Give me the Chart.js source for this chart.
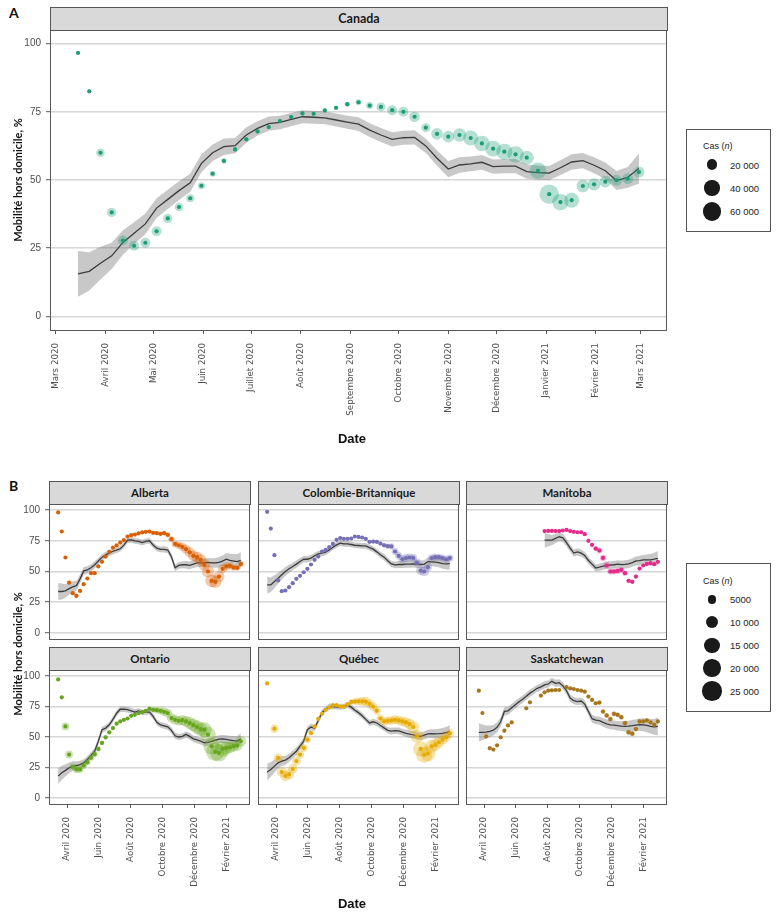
<!DOCTYPE html>
<html lang="fr">
<head>
<meta charset="utf-8">
<title>Mobilité hors domicile</title>
<script src="https://cdn.jsdelivr.net/npm/chart.js@4.4.1/dist/chart.umd.min.js"></script>
<style>
  html, body { margin: 0; padding: 0; background: #fff; }
  body { position: relative; width: 778px; height: 915px; overflow: hidden; font-family: Lato, 'Noto Sans', sans-serif; }
  canvas { position: absolute; }
  .strip { position: absolute; box-sizing: border-box; background: #d9d9d9; border: 1px solid #555; font-weight: bold; color: #1a1a1a; text-align: center; }
  .lettre { position: absolute; font-weight: bold; font-size: 14px; color: #111; }
  .ytitre { position: absolute; font-weight: bold; font-size: 11px; color: #111; white-space: nowrap; transform: translate(-50%, -50%) rotate(-90deg); }
  .xtitre { position: absolute; font-family: 'Liberation Sans Narrow', 'Liberation Sans', sans-serif; font-weight: bold; font-size: 13px; color: #111; transform: translate(-50%, -50%); }
  .legende { position: absolute; box-sizing: border-box; border: 1px solid #555; background: #fff; font-family: 'Liberation Sans', sans-serif; color: #222; }
  .legende .t { position: absolute; font-size: 9px; white-space: nowrap; transform: translateY(-50%); }
  .legende .v { position: absolute; font-size: 9.5px; white-space: nowrap; transform: translateY(-50%); }
  .rond { position: absolute; background: #1a1a1a; border-radius: 50%; }
</style>
</head>
<body>
<script>
// semaines d'observation (dimanche)
const semaines = [
  '2020-03-15', '2020-03-22', '2020-03-29', '2020-04-05', '2020-04-12', '2020-04-19', '2020-04-26',
  '2020-05-03', '2020-05-10', '2020-05-17', '2020-05-24', '2020-05-31', '2020-06-07', '2020-06-14',
  '2020-06-21', '2020-06-28', '2020-07-05', '2020-07-12', '2020-07-19', '2020-07-26', '2020-08-02',
  '2020-08-09', '2020-08-16', '2020-08-23', '2020-08-30', '2020-09-06', '2020-09-13', '2020-09-20',
  '2020-09-27', '2020-10-04', '2020-10-11', '2020-10-18', '2020-10-25', '2020-11-01', '2020-11-08',
  '2020-11-15', '2020-11-22', '2020-11-29', '2020-12-06', '2020-12-13', '2020-12-20', '2020-12-27',
  '2021-01-03', '2021-01-10', '2021-01-17', '2021-01-24', '2021-01-31', '2021-02-07', '2021-02-14',
  '2021-02-21', '2021-02-28'
];

const moisCanada = ['2020-03-01', '2020-04-01', '2020-05-01', '2020-06-01', '2020-07-01', '2020-08-01', '2020-09-01',
  '2020-10-01', '2020-11-01', '2020-12-01', '2021-01-01', '2021-02-01', '2021-03-01'];
const etiquettesCanada = ['Mars 2020', 'Avril 2020', 'Mai 2020', 'Juin 2020', 'Juillet 2020', 'Août 2020',
  'Septembre 2020', 'Octobre 2020', 'Novembre 2020', 'Décembre 2020', 'Janvier 2021', 'Février 2021', 'Mars 2021'];
const moisProvinces = ['2020-04-01', '2020-06-01', '2020-08-01', '2020-10-01', '2020-12-01', '2021-02-01'];
const etiquettesProvinces = ['Avril 2020', 'Juin 2020', 'Août 2020', 'Octobre 2020', 'Décembre 2020', 'Février 2021'];
const graduationsY = [0, 25, 50, 75, 100];

const legendeCanada = [20000, 40000, 60000];
const legendeProvinces = [5000, 10000, 15000, 20000, 25000];

// Canada
const canadaMobilite = [96.6, 82.5, 60.0, 38.1, 27.8, 25.9, 27.0, 31.2, 35.9, 40.1, 43.3, 47.9, 52.3, 57.0, 61.2, 64.9, 67.8,
  69.4, 71.6, 73.1, 74.4, 74.3, 75.5, 76.5, 77.8, 78.5, 77.3, 76.8, 75.6, 75.0, 73.2, 69.2, 66.9, 65.9, 66.5, 65.4, 63.4,
  61.5, 60.4, 59.4, 58.2, 53.4, 44.8, 41.9, 42.6, 47.8, 48.4, 49.4, 49.9, 50.5, 52.9];
const canadaTendance = [15.6, 16.5, 19.5, 22.2, 27.1, 30.5, 33.9, 39.7, 42.9, 46.1, 49.0, 56.1, 60.0, 62.2, 62.6, 66.5, 68.9,
  70.7, 71.1, 72.2, 73.2, 73.0, 72.8, 72.0, 71.2, 70.5, 68.3, 66.5, 64.9, 65.5, 65.6, 62.5, 58.0, 54.0, 55.5, 55.9, 56.5,
  54.9, 55.1, 55.1, 53.1, 52.7, 52.5, 54.5, 56.6, 57.1, 55.4, 53.4, 49.8, 51.0, 54.2];
const canadaDemiIC = [8.4, 7.0, 6.0, 4.8, 4.5, 4.0, 3.8, 3.6, 3.5, 3.4, 3.3, 3.3, 3.0, 3.0, 2.8, 2.8, 2.6, 2.6, 2.5, 2.5,
  2.4, 2.4, 2.4, 2.4, 2.4, 2.5, 2.5, 2.6, 2.6, 2.6, 2.6, 2.6, 2.8, 3.0, 2.8, 2.7, 2.7, 2.6, 2.6, 2.6, 2.6, 2.6, 2.6, 2.7,
  2.8, 2.8, 2.9, 3.0, 3.5, 3.8, 5.5];
const canadaCas = [1000, 3000, 12800, 15300, 17300, 17300, 17300, 17300, 15300, 12500, 11000, 8500, 6000, 4500, 3500, 3000,
  3000, 3000, 3500, 3500, 3000, 3000, 3000, 3500, 4500, 6000, 8500, 14000, 17300, 17300, 19500, 14000, 23300, 23300, 31100,
  39000, 42100, 42100, 44300, 46600, 33900, 47700, 65200, 46600, 39000, 27500, 26600, 23300, 21000, 21000, 21000];

// Alberta
const albertaMobilite = [98.1, 82.6, 61.4, 41.0, 32.3, 30.2, 34.2, 39.7, 44.3, 48.6, 48.6, 54.1, 57.9, 62.2, 66.0, 69.5, 71.4,
  73.6, 75.5, 78.5, 79.6, 80.1, 81.0, 81.8, 82.3, 82.6, 81.5, 81.2, 80.7, 81.2, 79.9, 76.3, 72.5, 71.4, 70.1, 68.2, 65.7,
  62.8, 61.7, 59.5, 55.4, 50.0, 42.4, 41.6, 45.9, 52.2, 54.1, 54.6, 53.2, 53.0, 56.2];
const albertaTendance = [33.7, 33.7, 34.2, 36.0, 37.5, 38.5, 44.0, 50.5, 51.3, 53.0, 55.5, 58.5, 61.5, 63.5, 65.0, 66.5, 67.5,
  68.5, 71.5, 75.5, 75.8, 75.0, 74.5, 73.5, 74.5, 75.0, 71.5, 69.0, 68.0, 68.0, 67.5, 62.0, 53.0, 55.0, 55.5, 55.5, 55.0,
  56.0, 57.0, 57.0, 57.0, 57.5, 57.0, 57.0, 57.5, 58.5, 60.0, 59.0, 58.5, 58.0, 59.0];
const albertaDemiIC = [7.0, 6.5, 5.5, 5.0, 4.5, 4.0, 3.5, 3.2, 3.0, 3.0, 2.8, 2.8, 2.6, 2.5, 2.5, 2.4, 2.4, 2.3, 2.3, 2.3,
  2.3, 2.3, 2.3, 2.3, 2.3, 2.3, 2.3, 2.4, 2.4, 2.5, 2.5, 2.6, 2.7, 2.8, 2.9, 3.0, 3.1, 3.2, 3.3, 3.4, 3.5, 3.6, 3.8, 4.0,
  4.3, 4.6, 5.0, 5.4, 5.8, 6.2, 6.8];
const albertaCas = [100, 400, 700, 900, 1400, 1500, 1000, 600, 400, 250, 200, 150, 200, 250, 300, 350, 500, 700, 800, 700,
  600, 650, 700, 800, 900, 1000, 1100, 1200, 1300, 1500, 1800, 2500, 3200, 3800, 4500, 5500, 6500, 7500, 8000, 8500, 9000,
  9500, 10500, 10000, 8000, 5500, 4000, 3000, 2600, 2400, 2500];

// Colombie-Britannique
const cbMobilite = [98.6, 85.0, 63.3, 42.7, 34.0, 34.5, 37.2, 40.5, 44.0, 46.5, 49.4, 52.2, 55.7, 59.5, 62.2, 66.3, 67.6,
  69.8, 72.5, 75.8, 77.2, 76.6, 76.6, 76.9, 78.5, 78.2, 77.7, 76.6, 74.2, 74.4, 74.2, 72.8, 71.4, 70.6, 70.4, 66.3, 62.8,
  60.0, 60.9, 61.4, 61.1, 57.3, 50.8, 50.0, 53.5, 60.9, 61.7, 61.7, 60.9, 60.0, 60.9];
const cbTendance = [39.1, 39.1, 41.8, 44.5, 47.3, 50.0, 52.2, 54.1, 56.0, 58.1, 60.0, 60.0, 60.9, 62.8, 64.4, 64.9, 65.7,
  67.6, 69.8, 71.7, 73.1, 72.5, 72.5, 72.0, 71.4, 71.2, 70.9, 70.9, 69.5, 68.2, 66.0, 63.6, 61.7, 58.7, 56.2, 55.4, 55.7,
  55.7, 56.0, 56.0, 56.2, 56.0, 55.7, 56.0, 58.1, 57.9, 57.6, 57.3, 56.5, 56.2, 56.5];
const cbDemiIC = [6.8, 6.0, 5.2, 4.5, 4.0, 3.6, 3.3, 3.0, 2.9, 2.8, 2.7, 2.6, 2.5, 2.5, 2.4, 2.4, 2.4, 2.3, 2.3, 2.3, 2.3,
  2.3, 2.3, 2.3, 2.3, 2.3, 2.3, 2.3, 2.4, 2.4, 2.4, 2.5, 2.5, 2.6, 2.6, 2.7, 2.8, 2.8, 2.9, 3.0, 3.0, 3.1, 3.2, 3.3, 3.4,
  3.5, 3.7, 3.9, 4.2, 4.5, 5.0];
const cbCas = [50, 300, 400, 350, 250, 200, 200, 150, 100, 100, 80, 60, 50, 60, 80, 100, 150, 200, 250, 300, 400, 500, 550,
  600, 700, 800, 900, 1000, 900, 1000, 1100, 1200, 1500, 1800, 2500, 3000, 3500, 4000, 4200, 4000, 3800, 4000, 5500, 6000,
  4500, 3800, 3500, 3200, 3200, 3300, 3500];

// Manitoba (pas de données avant fin juillet)
const manitobaMobilite = [null, null, null, null, null, null, null, null, null, null, null, null, null, null, null, null,
  null, null, null, 82.9, 83.1, 83.1, 82.9, 82.9, 83.4, 83.9, 82.9, 82.3, 82.0, 82.0, 80.4, 75.0, 71.7, 68.7, 67.1, 61.1,
  54.9, 50.0, 50.0, 50.5, 51.3, 48.6, 42.4, 41.6, 45.9, 52.4, 54.9, 56.2, 56.8, 56.0, 57.9];
const manitobaTendance = [null, null, null, null, null, null, null, null, null, null, null, null, null, null, null, null,
  null, null, null, 75.5, 75.5, 75.6, 77.0, 78.3, 77.5, 73.5, 69.0, 65.0, 66.0, 65.0, 63.0, 59.0, 56.0, 52.8, 53.5, 54.3,
  55.2, 55.3, 55.5, 56.0, 55.6, 55.8, 56.2, 57.3, 58.6, 58.8, 59.5, 59.4, 59.5, 60.0, 60.7];
const manitobaDemiIC = [null, null, null, null, null, null, null, null, null, null, null, null, null, null, null, null,
  null, null, null, 6.0, 5.0, 4.2, 3.8, 3.5, 3.3, 3.1, 3.0, 3.0, 2.9, 2.9, 2.9, 2.9, 2.9, 2.9, 2.9, 3.0, 3.0, 3.0, 3.1,
  3.1, 3.2, 3.3, 3.4, 3.5, 3.7, 3.9, 4.1, 4.4, 4.8, 5.3, 6.0];
const manitobaCas = [null, null, null, null, null, null, null, null, null, null, null, null, null, null, null, null,
  null, null, null, 100, 100, 100, 150, 200, 250, 300, 400, 500, 600, 700, 800, 900, 1200, 1800, 2200, 2500, 2600, 2500,
  2400, 2300, 2200, 1800, 1500, 1200, 1000, 800, 700, 600, 600, 500, 500];

// Ontario
const ontarioMobilite = [97.3, 82.6, 58.7, 35.6, 25.5, 23.4, 23.4, 26.6, 29.3, 32.9, 35.9, 40.2, 45.1, 49.7, 53.8, 57.3,
  60.9, 62.8, 64.1, 65.2, 67.4, 68.2, 69.6, 70.4, 71.5, 73.1, 72.3, 72.0, 71.5, 70.7, 69.6, 65.5, 64.1, 63.3, 63.9, 62.8,
  61.4, 59.8, 58.2, 56.5, 56.0, 51.9, 42.4, 37.8, 37.0, 40.2, 41.0, 41.6, 42.4, 42.9, 46.5];
const ontarioTendance = [17.9, 20.7, 22.6, 24.7, 26.1, 26.6, 27.4, 28.8, 31.5, 34.8, 38.3, 46.5, 56.0, 57.3, 60.0, 64.5,
  69.5, 72.8, 72.8, 72.5, 71.5, 70.5, 71.3, 70.2, 70.6, 70.5, 67.0, 62.0, 60.0, 59.2, 58.3, 55.5, 51.0, 50.0, 50.5, 52.2,
  50.5, 48.5, 47.6, 46.6, 45.3, 45.6, 46.5, 47.5, 48.2, 48.4, 48.0, 47.5, 47.0, 46.7, 48.6];
const ontarioDemiIC = [6.5, 5.8, 5.0, 4.4, 3.9, 3.5, 3.2, 3.0, 2.9, 2.8, 2.7, 2.6, 2.5, 2.5, 2.4, 2.4, 2.4, 2.3, 2.3, 2.3,
  2.3, 2.3, 2.3, 2.3, 2.3, 2.3, 2.3, 2.3, 2.4, 2.4, 2.4, 2.5, 2.5, 2.5, 2.6, 2.6, 2.7, 2.7, 2.8, 2.8, 2.9, 3.0, 3.0, 3.1,
  3.2, 3.3, 3.4, 3.6, 3.8, 4.1, 4.5];
const ontarioCas = [100, 500, 4000, 4000, 3300, 3500, 3300, 3000, 2500, 2400, 2300, 2000, 1500, 1300, 1100, 1000, 900, 800,
  800, 750, 650, 600, 700, 800, 1000, 1500, 2000, 2700, 3500, 4500, 5000, 5500, 5800, 6000, 7000, 8000, 9500, 10500, 11500,
  12500, 14000, 16000, 18000, 22000, 20000, 16000, 11000, 9000, 7500, 7000, 7500];

// Québec
const quebecMobilite = [94.0, null, 56.8, 32.9, 21.2, 17.9, 19.3, 23.9, 30.2, 35.6, 41.0, 47.8, 53.3, 58.7, 64.9, 69.0,
  72.3, 74.2, 76.1, 76.1, 75.0, 75.0, 76.9, 78.8, 79.1, 79.3, 79.3, 79.1, 77.2, 75.0, 71.5, 65.2, 62.8, 63.3, 63.6, 64.1,
  63.6, 62.8, 62.0, 60.6, 58.2, 50.5, 40.2, 35.3, 36.4, 42.4, 43.5, 45.7, 47.8, 49.7, 53.0];
const quebecTendance = [21.2, 23.4, 26.1, 28.8, 30.2, 31.0, 32.9, 35.6, 38.3, 42.4, 46.5, 56.0, 58.2, 57.3, 63.5, 70.0,
  72.5, 75.0, 75.0, 74.8, 74.6, 75.0, 76.2, 74.5, 72.0, 70.0, 67.5, 64.5, 61.5, 62.5, 61.5, 59.5, 57.5, 55.5, 54.8, 55.2,
  55.0, 54.0, 53.0, 52.3, 51.7, 51.0, 50.5, 51.5, 52.5, 52.8, 52.6, 52.7, 53.0, 53.5, 54.6];
const quebecDemiIC = [6.8, 6.0, 5.2, 4.6, 4.1, 3.7, 3.4, 3.2, 3.0, 2.9, 2.8, 2.7, 2.6, 2.5, 2.5, 2.4, 2.4, 2.4, 2.3, 2.3,
  2.3, 2.3, 2.3, 2.3, 2.3, 2.4, 2.4, 2.4, 2.5, 2.5, 2.5, 2.6, 2.6, 2.6, 2.7, 2.7, 2.8, 2.8, 2.9, 3.0, 3.0, 3.1, 3.2, 3.3,
  3.4, 3.6, 3.8, 4.0, 4.3, 4.7, 5.2];
const quebecCas = [100, 1500, 4500, 5000, 6500, 7000, 6500, 6000, 5000, 4500, 4000, 3000, 2000, 1200, 800, 600, 500, 500,
  700, 800, 900, 1000, 1500, 2000, 3000, 4000, 5000, 6000, 5500, 5000, 4500, 4000, 4500, 4800, 5000, 5200, 5500, 6000,
  6500, 7500, 9000, 11000, 15000, 17000, 15000, 11000, 9000, 7500, 6500, 5500, 5000];

// Saskatchewan
const saskMobilite = [null, 88.0, 69.6, 50.5, 40.8, 39.7, 43.2, 49.7, 55.2, 59.5, 62.0, null, null, null, 73.6, 78.5, null,
  null, 84.0, 86.7, 88.0, 88.3, 88.6, 88.6, null, 91.0, 89.9, 89.4, 88.6, 88.0, 87.2, 83.2, 80.4, 77.7, 78.3, 70.9, 67.7,
  64.7, 69.0, 68.2, 66.3, 61.4, 53.8, 52.7, 56.5, 62.8, 62.8, 63.6, 62.0, 60.1, 62.8];
const saskTendance = [null, 53.8, 53.8, 54.0, 54.6, 55.6, 58.0, 62.5, 71.0, 71.5, 74.0, 76.5, 79.0, 81.0, 83.5, 86.0, 88.0,
  90.0, 91.2, 92.8, 93.5, 95.7, 94.0, 94.6, 92.0, 88.0, 82.0, 79.8, 79.0, 79.5, 77.0, 71.0, 65.0, 63.8, 63.5, 62.0, 60.8,
  60.0, 59.8, 59.3, 59.0, 58.8, 59.0, 59.3, 59.8, 60.2, 60.0, 59.5, 58.8, 58.3, 58.7];
const saskDemiIC = [null, 7.5, 6.5, 5.5, 4.8, 4.3, 4.0, 3.7, 3.5, 3.3, 3.2, 3.1, 3.0, 3.0, 3.0, 2.9, 2.9, 2.9, 2.9, 2.9,
  2.9, 2.9, 2.9, 2.9, 2.9, 2.9, 3.0, 3.0, 3.0, 3.0, 3.1, 3.1, 3.2, 3.3, 3.4, 3.5, 3.6, 3.7, 3.8, 3.9, 4.0, 4.2, 4.4, 4.6,
  4.8, 5.0, 5.3, 5.6, 6.0, 6.5, 7.5];
const saskCas = [20, 50, 100, 100, 80, 60, 40, 30, 20, 20, 15, 10, 10, 15, 20, 30, 50, 80, 100, 120, 150, 100, 80, 70, 80,
  100, 150, 200, 250, 300, 400, 500, 800, 1000, 1300, 1500, 1700, 1800, 1900, 1800, 1700, 1900, 2000, 1800, 1500, 1200,
  1000, 900, 800, 800, 900];

const jour = s => {
  const [a, m, j] = s.split('-').map(Number);
  return (Date.UTC(a, m - 1, j) - Date.UTC(2020, 2, 1)) / 864e5;
};
const d0 = jour(semaines[0]), d1 = jour(semaines[semaines.length - 1]);
const X_MIN = d0 - 0.05 * (d1 - d0), X_MAX = d1 + 0.05 * (d1 - d0);

const rgba = (hex, a) => {
  const n = parseInt(hex.slice(1), 16);
  return `rgba(${n >> 16},${(n >> 8) & 255},${n & 255},${a})`;
};

// pas de marge automatique : la zone de tracé doit tomber pile sur le cadre voulu
const sansMarge = s => { s.paddingTop = 0; s.paddingBottom = 0; s.paddingLeft = 0; s.paddingRight = 0; };

const cadre = {
  id: 'cadre',
  afterDraw(chart) {
    const a = chart.chartArea, ctx = chart.ctx;
    ctx.save();
    ctx.strokeStyle = '#595959';
    ctx.lineWidth = 1;
    ctx.strokeRect(a.left + 0.5, a.top + 0.5, a.width - 1, a.height);
    ctx.restore();
  }
};

function panneau(p) {
  const cv = document.createElement('canvas');
  const W = p.axeG + p.w + 1, H = p.h + 2 + p.axeB;
  cv.width = W; cv.height = H;
  cv.style.left = (p.left - p.axeG) + 'px';
  cv.style.top = (p.top - 1) + 'px';
  cv.style.width = W + 'px'; cv.style.height = H + 'px';
  document.body.appendChild(cv);

  const strip = document.createElement('div');
  strip.className = 'strip';
  strip.textContent = p.nom;
  Object.assign(strip.style, {
    left: p.left + 'px', top: p.bande + 'px', width: (p.w + 1) + 'px',
    height: (p.top - p.bande + 1) + 'px', lineHeight: (p.top - p.bande - 1) + 'px', fontSize: p.policeBande + 'px'
  });
  document.body.appendChild(strip);

  const bas = [], haut = [], ligne = [], halo = [], points = [];
  semaines.forEach((s, i) => {
    const x = jour(s);
    if (p.tend[i] != null) {
      ligne.push({ x, y: p.tend[i] });
      bas.push({ x, y: p.tend[i] - p.ic[i] });
      haut.push({ x, y: p.tend[i] + p.ic[i] });
    }
    if (p.mob[i] != null) {
      points.push({ x, y: p.mob[i] });
      if (p.cas[i] != null) halo.push({ x, y: p.mob[i], r: p.k * Math.sqrt(p.cas[i]) });
    }
  });

  new Chart(cv, {
    type: 'scatter',
    data: {
      datasets: [
        { type: 'line', data: bas, borderWidth: 0, pointRadius: 0, fill: false, order: 5 },
        { type: 'line', data: haut, borderWidth: 0, pointRadius: 0, fill: '-1', backgroundColor: 'rgba(110,110,110,0.38)', order: 4 },
        { type: 'line', data: ligne, borderColor: '#3c3c3c', borderWidth: 1.3, pointRadius: 0, fill: false, order: 3 },
        { type: 'bubble', data: halo, backgroundColor: rgba(p.couleur, 0.33), borderWidth: 0, order: 2 },
        { data: points, backgroundColor: p.couleur, pointRadius: 2.1, borderWidth: 0, order: 1 }
      ]
    },
    options: {
      responsive: false,
      animation: false,
      devicePixelRatio: 1,
      events: [],
      layout: { autoPadding: false, padding: { top: 1, right: 1, bottom: 1, left: 0 } },
      plugins: { legend: { display: false }, tooltip: { enabled: false } },
      scales: {
        x: {
          type: 'linear', min: X_MIN, max: X_MAX,
          afterFit: s => { s.height = p.axeB; sansMarge(s); },
          afterBuildTicks: s => { s.ticks = p.mois.map(m => ({ value: jour(m) })); },
          ticks: {
            display: p.axeB > 0, autoSkip: false, minRotation: 90, maxRotation: 90, padding: 9,
            color: '#4d4d4d', font: { family: 'DejaVu Sans', size: 8.7 },
            callback: (v, i) => p.etiq[i]
          },
          grid: { drawOnChartArea: false, drawTicks: p.axeB > 0, tickLength: 4, tickColor: '#595959', tickWidth: 1 },
          border: { display: false }
        },
        y: {
          min: -5, max: 105,
          afterFit: s => { s.width = p.axeG; sansMarge(s); },
          afterBuildTicks: s => { s.ticks = graduationsY.map(v => ({ value: v })); },
          ticks: { display: p.axeG > 0, padding: 5, color: '#4d4d4d', font: { family: 'Liberation Sans', size: 10 } },
          grid: { color: '#d6d6d6', lineWidth: 1.4, drawTicks: p.axeG > 0, tickLength: 4, tickColor: '#595959', tickWidth: 1 },
          border: { display: false }
        }
      }
    },
    plugins: [cadre]
  });
}

const colonnes = [49, 258, 466];
const provinces = [
  { nom: 'Alberta', couleur: '#d95f02', mob: albertaMobilite, tend: albertaTendance, ic: albertaDemiIC, cas: albertaCas, col: 0, rang: 0 },
  { nom: 'Colombie-Britannique', couleur: '#7570b3', mob: cbMobilite, tend: cbTendance, ic: cbDemiIC, cas: cbCas, col: 1, rang: 0 },
  { nom: 'Manitoba', couleur: '#e7298a', mob: manitobaMobilite, tend: manitobaTendance, ic: manitobaDemiIC, cas: manitobaCas, col: 2, rang: 0 },
  { nom: 'Ontario', couleur: '#66a61e', mob: ontarioMobilite, tend: ontarioTendance, ic: ontarioDemiIC, cas: ontarioCas, col: 0, rang: 1 },
  { nom: 'Québec', couleur: '#e6ab02', mob: quebecMobilite, tend: quebecTendance, ic: quebecDemiIC, cas: quebecCas, col: 1, rang: 1 },
  { nom: 'Saskatchewan', couleur: '#a6761d', mob: saskMobilite, tend: saskTendance, ic: saskDemiIC, cas: saskCas, col: 2, rang: 1 }
];

panneau({
  nom: 'Canada', couleur: '#1b9e77', mob: canadaMobilite, tend: canadaTendance, ic: canadaDemiIC, cas: canadaCas,
  k: 0.038, left: 50, top: 30, w: 617, h: 300, bande: 7, policeBande: 12.5, axeG: 50, axeB: 110,
  mois: moisCanada, etiq: etiquettesCanada
});

provinces.forEach(pr => {
  panneau(Object.assign({}, pr, {
    k: 0.062, left: colonnes[pr.col], w: 201,
    top: pr.rang === 0 ? 504 : 670, h: pr.rang === 0 ? 135 : 134, bande: pr.rang === 0 ? 481 : 647,
    policeBande: 11.5, axeG: pr.col === 0 ? 49 : 0, axeB: pr.rang === 1 ? 100 : 0,
    mois: moisProvinces, etiq: etiquettesProvinces
  }));
});

function texte(cls, txt, x, y) {
  const d = document.createElement('div');
  d.className = cls;
  d.textContent = txt;
  d.style.left = x + 'px';
  d.style.top = y + 'px';
  document.body.appendChild(d);
  return d;
}
texte('lettre', 'A', 9, 4);
texte('lettre', 'B', 9, 477);
texte('ytitre', 'Mobilité hors domicile, %', 17, 180);
texte('ytitre', 'Mobilité hors domicile, %', 17, 654);
texte('xtitre', 'Date', 352, 438);
texte('xtitre', 'Date', 352, 903);

function legende(top, hauteur, valeurs, k, yTitre, yPremier, pas) {
  const box = document.createElement('div');
  box.className = 'legende';
  Object.assign(box.style, { left: '686px', top: top + 'px', width: '85px', height: hauteur + 'px' });
  const t = document.createElement('div');
  t.className = 't';
  t.innerHTML = 'Cas (<i>n</i>)';
  t.style.left = '16px'; t.style.top = (yTitre - top) + 'px';
  box.appendChild(t);
  valeurs.forEach((v, i) => {
    const r = k * Math.sqrt(v);
    const cy = yPremier + i * pas - top;
    const c = document.createElement('div');
    c.className = 'rond';
    Object.assign(c.style, { left: (25 - r) + 'px', top: (cy - r) + 'px', width: 2 * r + 'px', height: 2 * r + 'px' });
    box.appendChild(c);
    const l = document.createElement('div');
    l.className = 'v';
    l.textContent = v.toLocaleString('fr-FR').replace(/\s/g, ' ').replace(/^(\d) (\d{3})$/, '$1$2');
    l.style.left = '43px';
    l.style.top = cy + 'px';
    box.appendChild(l);
  });
  document.body.appendChild(box);
}
legende(129, 103, legendeCanada, 0.038, 145, 163.7, 23.3);
legende(563, 149, legendeProvinces, 0.062, 580, 598.3, 22.9);
</script>
</body>
</html>
